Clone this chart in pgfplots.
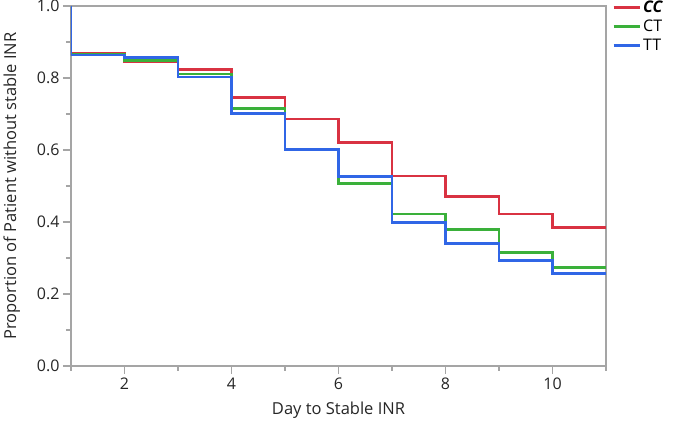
\documentclass[border=0pt]{standalone}
\usepackage{pgfplots}
\pgfplotsset{compat=1.18}
\usepackage{fontspec}
\setmainfont{Open Sans}
\definecolor{ccred}{RGB}{217,50,66}
\definecolor{ctgreen}{RGB}{58,176,58}
\definecolor{ttblue}{RGB}{48,102,230}
\definecolor{framegray}{RGB}{165,165,165}
\begin{document}
\begin{tikzpicture}
\begin{axis}[
  scale only axis,
  width=535pt, height=360pt,
  xmin=1, xmax=11, ymin=0, ymax=1,
  axis line style={framegray, line width=1.5pt},
  xtick={2,4,6,8,10},
  minor xtick={1,3,5,7,9,11},
  ytick={0,0.2,0.4,0.6,0.8,1.0},
  minor ytick={0.1,0.3,0.5,0.7,0.9},
  tick align=outside,
  tick pos=left,
  major tick length=8pt, minor tick length=5pt,
  every tick/.style={framegray, line width=1.3pt},
  /pgf/number format/assume math mode=true,
  xticklabel={\fontsize{16}{18}\selectfont\pgfmathprintnumber{\tick}},
  yticklabel={\fontsize{16}{18}\selectfont\pgfmathprintnumber[fixed,fixed zerofill,precision=1]{\tick}},
  every tick label/.append style={text=black!85},
  xlabel={Day to Stable INR},
  ylabel={Proportion of Patient without stable INR},
  every axis label/.append style={font=\fontsize{16.5}{18}\selectfont, text=black!85},
  xlabel style={yshift=-6pt},
  ylabel style={yshift=10pt},
  legend style={at={(1.0,1.0)}, anchor=north west, draw=none, fill=none,
    font=\fontsize{16}{18}\selectfont, row sep=2pt, xshift=3pt, yshift=9pt},
  legend cell align=left,
  legend image code/.code={\draw[#1, line width=3pt] (0pt,0pt) -- (26pt,0pt);},
]
\addplot[const plot, ccred, line width=2.8pt] coordinates {
 (1,1.0) (1,0.869) (2,0.846) (3,0.823) (4,0.745) (5,0.686) (6,0.620)
 (7,0.528) (8,0.470) (9,0.422) (10,0.385) (11,0.385)};
\addlegendentry{\textbf{\textit{CC}}}
\addplot[const plot, ctgreen, line width=2.8pt] coordinates {
 (1,1.0) (1,0.865) (2,0.848) (3,0.811) (4,0.716) (5,0.602) (6,0.507)
 (7,0.422) (8,0.379) (9,0.316) (10,0.274) (11,0.274)};
\addlegendentry{CT}
\addplot[const plot, ttblue, line width=2.8pt] coordinates {
 (1,1.0) (1,0.864) (2,0.857) (3,0.803) (4,0.702) (5,0.602) (6,0.526)
 (7,0.398) (8,0.340) (9,0.292) (10,0.256) (11,0.256)};
\addlegendentry{TT}
\end{axis}
\pgfresetboundingbox
\path[use as bounding box] ([xshift=-71pt,yshift=-56pt]current axis.south west) rectangle ([xshift=79pt,yshift=6pt]current axis.north east);
\end{tikzpicture}
\end{document}
